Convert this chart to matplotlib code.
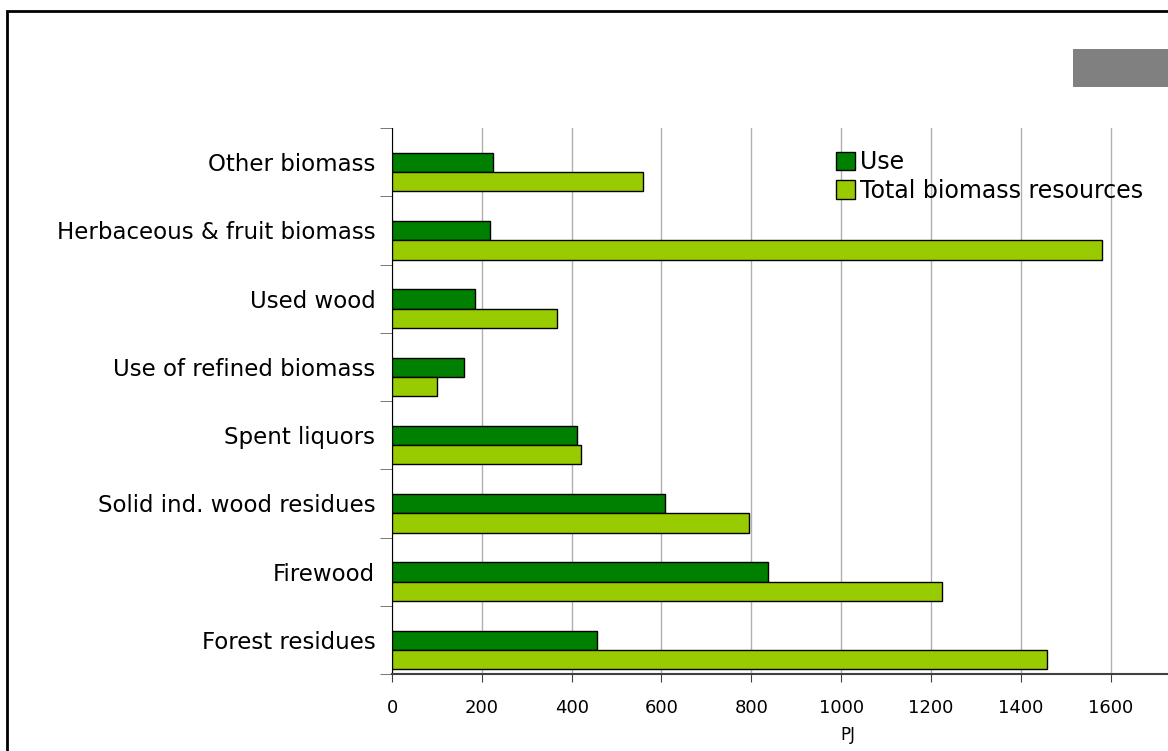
import numpy as np
import matplotlib.pyplot as plt
from matplotlib.patches import Rectangle

# data (PJ), bottom to top
categories = ['Forest residues', 'Firewood', 'Solid ind. wood residues', 'Spent liquors',
              'Use of refined biomass', 'Used wood', 'Herbaceous & fruit biomass', 'Other biomass']
use = [457, 837, 607, 413, 161, 185, 219, 224]
total = [1459, 1225, 796, 421, 101, 367, 1581, 559]
xticks = [0, 200, 400, 600, 800, 1000, 1200, 1400, 1600]

plt.rcParams['font.family'] = ['DejaVu Sans']

fig = plt.figure(figsize=(11.68, 7.51), dpi=100)
ax = fig.add_axes([392/1168, 1-674/751, 1-392/1168, (674-128)/751])

y = np.arange(len(categories))
h = 0.283
ax.barh(y - 0.005, use, height=h, color='#008000', edgecolor='black', linewidth=1, label='Use', zorder=3)
ax.barh(y - 0.288, total, height=h, color='#99cc00', edgecolor='black', linewidth=1,
        label='Total biomass resources', zorder=3)

ax.set_xlim(0, 1728)
ax.set_ylim(-0.5, len(categories) - 0.5)

ax.set_xticks(xticks)
ax.set_xticklabels([str(v) for v in xticks], fontsize=13)
ax.tick_params(axis='x', length=6, color='#404040', pad=12)
ax.xaxis.grid(True, color='#b0b0b0', linewidth=1, zorder=0)

ax.set_yticks(y)
ax.set_yticklabels(categories, fontsize=16.5)
ax.tick_params(axis='y', length=0, pad=12)
ax.set_yticks(np.arange(-0.5, len(categories)), minor=True)
ax.tick_params(axis='y', which='minor', length=9, color='#606060')

ax.set_xlabel('PJ', fontsize=12)
ax.xaxis.set_label_coords((848-392)/776, -(735-674)/546, transform=ax.transAxes)
ax.xaxis.label.set_verticalalignment('center')

for s in ['top', 'right']:
    ax.spines[s].set_visible(False)
ax.spines['left'].set_color('black')
ax.spines['bottom'].set_color('#404040')
ax.spines['bottom'].set_linewidth(1.5)

ax.legend(loc='upper left', bbox_to_anchor=((836-392)/776, 1-(150-128)/546), frameon=False,
          fontsize=17, handlelength=0.8, handleheight=0.8, handletextpad=0.2,
          borderpad=0, borderaxespad=0, labelspacing=0.2)

# outer frame and grey box
fig.patches.append(Rectangle((7/1168, -0.1), 1.2, 1-11/751+0.1, transform=fig.transFigure,
                             fill=False, edgecolor='black', linewidth=2))
fig.patches.append(Rectangle((1073/1168, 1-87/751), 0.2, 38/751, transform=fig.transFigure,
                             facecolor='#808080', edgecolor='none'))

fig.savefig('out.png', dpi=100)
